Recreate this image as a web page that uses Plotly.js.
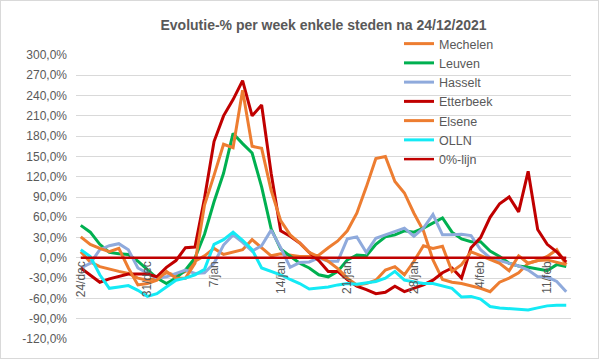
<!DOCTYPE html>
<html>
<head>
<meta charset="utf-8">
<script src="https://cdn.plot.ly/plotly-3.0.1.min.js"></script>
<style>
html,body{margin:0;padding:0;background:#fff;}
#wrap{position:relative;width:599px;height:359px;}
#chart{width:599px;height:359px;}
#frame{position:absolute;left:0;top:0;width:597px;height:357px;border:1px solid #d9d9d9;pointer-events:none;}
</style>
</head>
<body>
<div id="wrap"><div id="chart"></div><div id="frame"></div></div>
<script>
const dates = ["24/dec","25/dec","26/dec","27/dec","28/dec","29/dec","30/dec","31/dec",
"1/jan","2/jan","3/jan","4/jan","5/jan","6/jan","7/jan","8/jan","9/jan","10/jan","11/jan","12/jan","13/jan","14/jan","15/jan","16/jan","17/jan","18/jan","19/jan","20/jan","21/jan","22/jan","23/jan","24/jan","25/jan","26/jan","27/jan","28/jan","29/jan","30/jan","31/jan",
"1/feb","2/feb","3/feb","4/feb","5/feb","6/feb","7/feb","8/feb","9/feb","10/feb","11/feb","12/feb","13/feb"];

const tickDates = ["24/dec","31/dec","7/jan","14/jan","21/jan","28/jan","4/feb","11/feb"];

const mechelen = [9,-6,-13,-17,-20,-23,-30,-33,-30,-22, -26,-20,-5,3,14,5,9,12,27,15, 3,6,4,2,2,4,15,25,40,66, 105,147,150,113,96,66,40,-3,-32,-36, -38,-41,-45,-50,-36,-30,-22,-8,-4,2, 12,-10];
const leuven = [48,38,20,8,6,5,-5,-18,-30,-38, -30,-18,0,35,83,125,184,169,155,105, 43,13,2,-8,-15,-25,-28,-20,-3,4, 3,20,31,34,40,38,44,52,59,38, 28,24,24,10,2,-8,-12,-14,-17,-19, -10,-13];
const hasselt = [-15,-8,12,18,21,12,-15,-22,-30,-28, -23,-18,-23,-22,-8,19,34,23,10,18, 41,15,-14,-7,-6,0,-5,-5,28,31, 8,29,34,39,44,32,44,64,34,34, 35,33,12,0,-4,-8,-12,-18,-28,-28, -35,-50];
const etterbeek = [-15,-25,-36,-31,-28,-24,-24,-24,-28,-14, -4,15,16,88,172,210,234,262,210,226, 125,40,32,22,8,-4,-20,-20,-32,-42, -47,-53,-51,-42,-50,-45,-40,-33,-22,-15, -30,15,30,60,80,90,68,128,42,20, 9,-6];
const elsene = [31,20,14,9,14,-15,-40,-38,-33,-20, -30,-30,-8,78,122,168,163,248,165,162, 100,55,34,22,8,2,-5,-16,-30,-40, -38,-33,-18,-13,-25,-5,18,14,17,-20, -10,9,3,-3,-8,-19,3,-8,-4,-3, -6,-10];
const olln = [12,2,-25,-45,-43,-41,-48,-57,-53,-43, -33,-30,-25,-17,20,27,38,26,12,-15, -20,-25,-32,-38,-46,-45,-43,-40,-38,-39, -37,-35,-30,-20,-33,-36,-38,-38,-42,-45, -58,-57,-61,-72,-74,-75,-76,-77,-74,-71, -70,-70];
const nulLijn = dates.map(() => 0);

const yTicks = [-120,-90,-60,-30,0,30,60,90,120,150,180,210,240,270,300];
const yTickText = ["-120,0%","-90,0%","-60,0%","-30,0%","0,0%","30,0%","60,0%","90,0%","120,0%","150,0%","180,0%","210,0%","240,0%","270,0%","300,0%"];

const series = [
  {name:"Mechelen", y:mechelen, color:"#ED7D31", w:3},
  {name:"Leuven", y:leuven, color:"#00B050", w:3},
  {name:"Hasselt", y:hasselt, color:"#8FAADC", w:3},
  {name:"Etterbeek", y:etterbeek, color:"#C00000", w:3},
  {name:"Elsene", y:elsene, color:"#ED7D31", w:3},
  {name:"OLLN", y:olln, color:"#14EAF5", w:3},
  {name:"0%-lijn", y:nulLijn, color:"#C00000", w:2.5}
];

const traces = series.map(s => ({
  type:"scatter", mode:"lines", name:s.name, x:dates, y:s.y,
  line:{color:s.color, width:s.w}
}));

const fontFam = "Liberation Sans, Arial, sans-serif";
const layout = {
  width:599, height:359,
  margin:{l:76, r:28, t:55, b:20},
  paper_bgcolor:"#ffffff", plot_bgcolor:"#ffffff",
  font:{family:fontFam, color:"#595959"},
  title:{text:"<b>Evolutie-% per week enkele steden na 24/12/2021</b>",
    font:{family:fontFam, size:14, color:"#595959"},
    x:0.5, xanchor:"center", xref:"paper", y:1-25/359, yanchor:"middle", yref:"container"},
  xaxis:{type:"category", range:[-0.5,51.5], tickmode:"array", tickvals:tickDates, ticktext:tickDates,
    tickangle:-90, showgrid:false, zeroline:false, showline:false, ticks:"",
    anchor:"free", position:120/420, tickfont:{size:12, color:"#595959"}},
  yaxis:{range:[-120,300], tickmode:"array", tickvals:yTicks, ticktext:yTickText,
    showgrid:true, gridcolor:"#d9d9d9", gridwidth:1, zeroline:false, showline:false, ticks:"",
    tickfont:{size:12, color:"#595959"}, ticklabelstandoff:8},
  showlegend:true,
  legend:{x:(399-76)/495, y:(339-29)/284, xanchor:"left", yanchor:"top",
    font:{size:12.5, color:"#595959", family:fontFam}, bgcolor:"rgba(0,0,0,0)"}
};

Plotly.newPlot("chart", traces, layout, {staticPlot:true, displayModeBar:false});
</script>
</body>
</html>
